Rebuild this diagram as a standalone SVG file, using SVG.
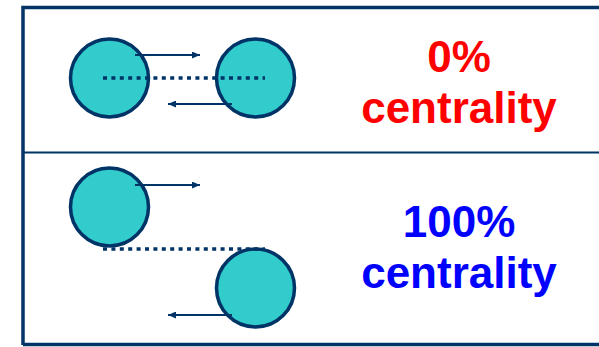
<svg xmlns="http://www.w3.org/2000/svg" width="599" height="347" viewBox="0 0 599 347">
  <style>
    .node { fill: #33CCCC; stroke: #003366; stroke-width: 3.5; }
    .flow { stroke: #003366; stroke-width: 1.8; fill: none; marker-end: url(#arrow); }
    .link { stroke: #003366; stroke-width: 3.5; stroke-dasharray: 4 4.4; fill: none; }
    .label { font-family: "Liberation Sans", Arial, sans-serif; font-weight: bold; font-size: 44px; text-anchor: middle; }
  </style>
  <defs>
    <marker id="arrow" viewBox="0 0 8 7" refX="8" refY="3.5" markerWidth="8" markerHeight="7" markerUnits="userSpaceOnUse" orient="auto">
      <path d="M0,0 L8,3.5 L0,7 z" fill="#003366"/>
    </marker>
  </defs>
  <rect width="599" height="347" fill="#ffffff"/>

  <!-- panel frame -->
  <g id="frame" fill="none" stroke="#003366">
    <path d="M23,345 V7.5 H599" stroke-width="3.5"/>
    <path d="M23,344.5 H599" stroke-width="3.5"/>
    <path d="M23,152.5 H599" stroke-width="2"/>
  </g>

  <!-- top panel: 0% centrality -->
  <g id="node-a1"><circle class="node" cx="109.5" cy="78" r="39"/></g>
  <g id="node-b1"><circle class="node" cx="255.5" cy="78" r="39"/></g>

  <!-- bottom panel: 100% centrality -->
  <g id="node-a2"><circle class="node" cx="109.5" cy="207" r="39"/></g>
  <g id="node-b2"><circle class="node" cx="255.5" cy="288" r="39"/></g>

  <g id="connectors">
    <line class="link" x1="103" y1="78" x2="265" y2="78"/>
    <line class="flow" x1="135" y1="55" x2="200" y2="55"/>
    <line class="flow" x1="232" y1="104" x2="168" y2="104"/>

    <line class="link" x1="103" y1="249" x2="265" y2="249"/>
    <line class="flow" x1="135" y1="185" x2="200" y2="185"/>
    <line class="flow" x1="232" y1="315" x2="168" y2="315"/>
  </g>

  <g id="label-top" class="label" fill="#FF0000">
    <text x="459" y="72">0%</text>
    <text x="459" y="123">centrality</text>
  </g>
  <g id="label-bottom" class="label" fill="#0000FF">
    <text x="459" y="237">100%</text>
    <text x="459" y="288">centrality</text>
  </g>
</svg>
